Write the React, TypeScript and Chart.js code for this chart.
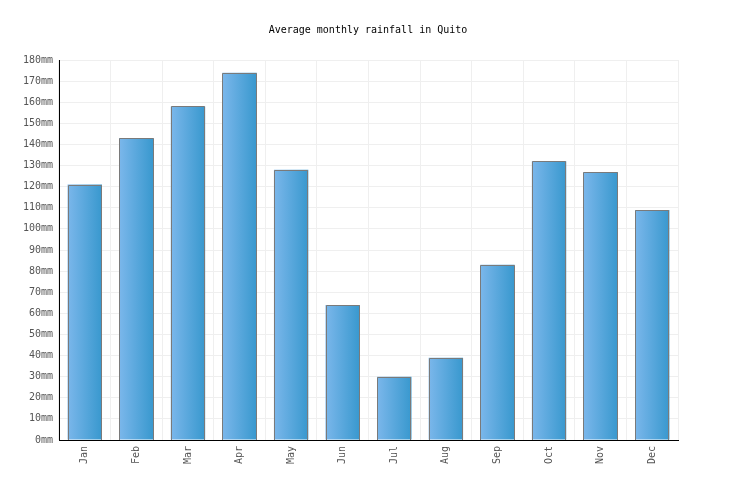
import { useEffect, useRef } from 'react'
import { Chart, registerables } from 'chart.js'

Chart.register(...registerables);

const months = ['Jan', 'Feb', 'Mar', 'Apr', 'May', 'Jun', 'Jul', 'Aug', 'Sep', 'Oct', 'Nov', 'Dec'];
const rainfallMm = [121, 143, 158, 174, 128, 64, 30, 39, 83, 132, 127, 109];
const yMax = 180;
const yStep = 10;
const titleText = 'Average monthly rainfall in Quito';

const FONT = '"DejaVu Sans Mono", monospace';
const BAR_PCT = 0.667;

// title centred on the whole canvas, not on the plot area
const pageTitle = {
  id: 'pageTitle',
  afterDraw(chart: Chart) {
    const { ctx, width } = chart;
    ctx.save();
    ctx.font = `10px ${FONT}`;
    ctx.fillStyle = '#000';
    ctx.textAlign = 'center';
    ctx.textBaseline = 'middle';
    ctx.fillText(titleText, width / 2, 30);
    ctx.restore();
  },
};

// crisp 1px outline on each bar, snapped to whole pixels
const barOutline = {
  id: 'barOutline',
  afterDatasetsDraw(chart: Chart) {
    const { ctx } = chart;
    const meta = chart.getDatasetMeta(0);
    ctx.save();
    ctx.strokeStyle = '#7a7a7a';
    ctx.lineWidth = 1;
    meta.data.forEach((el: any) => {
      const { x, y, base, width } = el.getProps(['x', 'y', 'base', 'width'], true);
      const l = Math.round(x - width / 2) + 0.5;
      const r = Math.round(x + width / 2) - 0.5;
      const t = Math.round(y) + 0.5;
      const b = Math.round(base);
      ctx.beginPath();
      ctx.moveTo(l, b);
      ctx.lineTo(l, t);
      ctx.lineTo(r, t);
      ctx.lineTo(r, b);
      ctx.stroke();
    });
    ctx.restore();
  },
};

export default function App() {
  const canvasRef = useRef<HTMLCanvasElement>(null);

  useEffect(() => {
    document.body.style.margin = '0';
    if (!canvasRef.current) return;

    const chart = new Chart(canvasRef.current, {
      type: 'bar',
      data: {
        labels: months,
        datasets: [{
          label: 'Rainfall',
          data: rainfallMm,
          backgroundColor: (ctx) => {
            const c = ctx.chart;
            const area = c.chartArea;
            const xs = c.scales.x;
            if (!area || !xs) return '#5aa6dc';
            const center = xs.getPixelForValue(ctx.dataIndex);
            const half = ((area.right - area.left) / months.length) * BAR_PCT / 2;
            const g = c.ctx.createLinearGradient(center - half, 0, center + half, 0);
            g.addColorStop(0, '#7bb7eb');
            g.addColorStop(1, '#3898ce');
            return g;
          },
          borderWidth: 0,
          categoryPercentage: 1,
          barPercentage: BAR_PCT,
        }],
      },
      options: {
        responsive: false,
        animation: false,
        layout: { padding: { left: 0, right: 58, top: 60, bottom: 0 } },
        plugins: {
          legend: { display: false },
          tooltip: { enabled: false },
          title: { display: false },
        },
        scales: {
          x: {
            grid: { color: '#efefef', drawTicks: false, offset: true },
            border: { color: '#000', width: 1 },
            ticks: {
              color: '#555',
              font: { family: FONT, size: 10 },
              maxRotation: 90,
              minRotation: 90,
              padding: 6,
            },
            afterFit: (axis) => { axis.height = 60; },
          },
          y: {
            min: 0,
            max: yMax,
            grid: { color: '#efefef', drawTicks: false },
            border: { color: '#000', width: 1 },
            ticks: {
              stepSize: yStep,
              color: '#555',
              font: { family: FONT, size: 10 },
              padding: 6,
              callback: (v) => `${v}mm`,
            },
            afterFit: (axis) => { axis.width = 59; },
          },
        },
      },
      plugins: [pageTitle, barOutline],
    });

    return () => chart.destroy();
  }, []);

  return (
    <div style={{ width: 736, height: 500 }}>
      <canvas ref={canvasRef} width={736} height={500} style={{ width: 736, height: 500 }} />
    </div>
  );
}
